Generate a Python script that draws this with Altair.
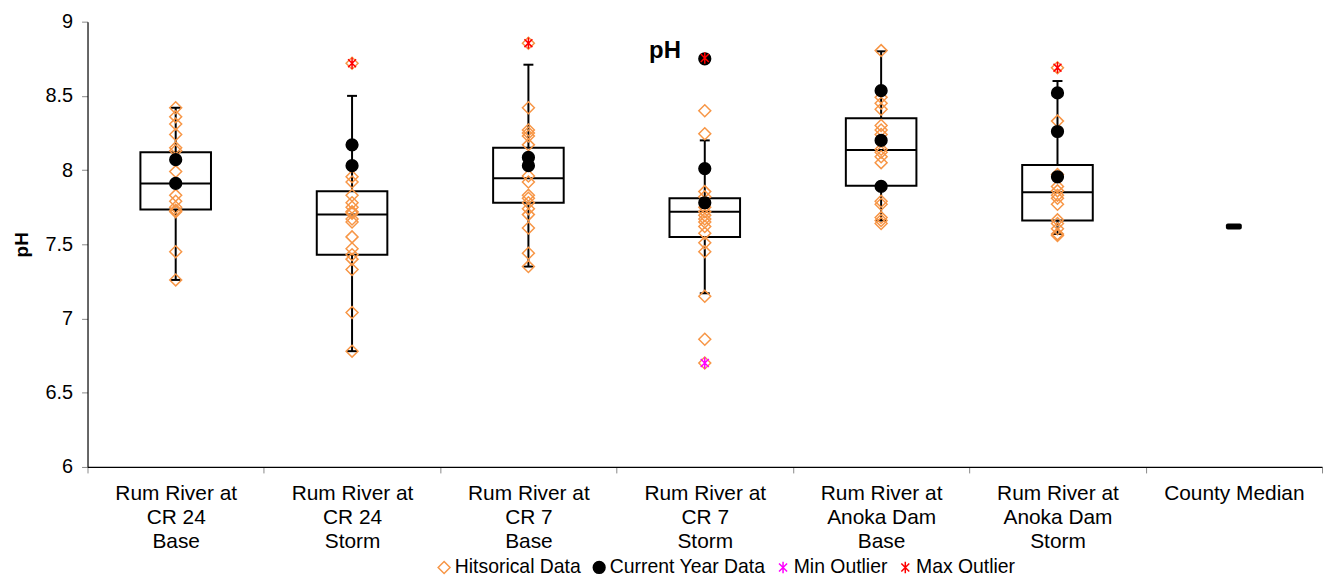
import altair as alt
import pandas as pd

FONT = "Liberation Sans"

sites = [
    "Rum River at|CR 24|Base",
    "Rum River at|CR 24|Storm",
    "Rum River at|CR 7|Base",
    "Rum River at|CR 7|Storm",
    "Rum River at|Anoka Dam|Base",
    "Rum River at|Anoka Dam|Storm",
    "County Median",
]

# box statistics for the six river sites
q1 = [7.735, 7.43, 7.78, 7.55, 7.895, 7.66]
median = [7.91, 7.70, 7.945, 7.72, 8.135, 7.85]
q3 = [8.12, 7.857, 8.15, 7.81, 8.35, 8.035]
whisk_lo = [7.26, 6.78, 7.35, 7.17, 7.66, 7.57]
whisk_hi = [8.42, 8.50, 8.71, 8.20, 8.80, 8.60]

county_median = 7.62

hist_cr24_base = [8.42, 8.36, 8.31, 8.24, 8.15, 8.13, 7.99, 7.83, 7.79, 7.75, 7.73, 7.72, 7.45, 7.26]
hist_cr24_storm = [8.72, 7.955, 7.92, 7.83, 7.78, 7.75, 7.72, 7.71, 7.67, 7.65, 7.55, 7.47, 7.43, 7.40, 7.33, 7.04, 6.78]
hist_cr7_base = [8.855, 8.42, 8.27, 8.25, 8.23, 8.17, 7.96, 7.92, 7.83, 7.81, 7.78, 7.74, 7.70, 7.61, 7.44, 7.35]
hist_cr7_storm = [8.40, 8.245, 7.855, 7.82, 7.75, 7.72, 7.695, 7.67, 7.65, 7.62, 7.575, 7.51, 7.45, 7.15, 6.86, 6.70]
hist_anoka_base = [8.805, 8.49, 8.45, 8.41, 8.30, 8.27, 8.24, 8.14, 8.12, 8.09, 8.05, 7.79, 7.77, 7.68, 7.66, 7.64]
hist_anoka_storm = [8.69, 8.33, 7.97, 7.89, 7.86, 7.83, 7.81, 7.77, 7.665, 7.64, 7.605, 7.57, 7.56]

cur_cr24_base = [8.07, 7.91]
cur_cr24_storm = [8.17, 8.03]
cur_cr7_base = [8.085, 8.03]
cur_cr7_storm = [8.75, 8.01, 7.78]
cur_anoka_base = [8.535, 8.20, 7.89]
cur_anoka_storm = [8.52, 8.26, 7.955]

min_outlier_sites = ["Rum River at|CR 7|Storm"]
min_outlier_vals = [6.70]
max_outlier_sites = ["Rum River at|CR 24|Storm", "Rum River at|CR 7|Base",
                     "Rum River at|CR 7|Storm", "Rum River at|Anoka Dam|Storm"]
max_outlier_vals = [8.72, 8.855, 8.755, 8.69]

series_names = ["Hitsorical Data", "Current Year Data", "Min Outlier", "Max Outlier"]

hist_all = [hist_cr24_base, hist_cr24_storm, hist_cr7_base, hist_cr7_storm, hist_anoka_base, hist_anoka_storm]
cur_all = [cur_cr24_base, cur_cr24_storm, cur_cr7_base, cur_cr7_storm, cur_anoka_base, cur_anoka_storm]

rows = []
for s, vals in zip(sites, hist_all):
    for v in vals:
        rows.append({"site": s, "value": v, "series": series_names[0]})
for s, vals in zip(sites, cur_all):
    for v in vals:
        rows.append({"site": s, "value": v, "series": series_names[1]})
for s, v in zip(min_outlier_sites, min_outlier_vals):
    rows.append({"site": s, "value": v, "series": series_names[2]})
for s, v in zip(max_outlier_sites, max_outlier_vals):
    rows.append({"site": s, "value": v, "series": series_names[3]})
points = pd.DataFrame(rows)

boxes = pd.DataFrame({"site": sites[:6], "q1": q1, "median": median, "q3": q3,
                      "lo": whisk_lo, "hi": whisk_hi})
county = pd.DataFrame({"site": [sites[6]], "median": [county_median]})

xenc = alt.X("site:N", sort=sites,
             scale=alt.Scale(domain=sites, paddingInner=0, paddingOuter=0),
             axis=alt.Axis(title=None, labelExpr="split(datum.label, '|')",
                           labelAngle=0, labelFont=FONT, labelFontSize=21,
                           labelColor="black", labelLineHeight=24, labelPadding=10,
                           labelBaseline="top",
                           tickBand="extent", tickColor="#888888", tickSize=6,
                           domainColor="black", domainWidth=1.2))
yscale = alt.Scale(domain=[6, 9], nice=False, zero=False)
yaxis = alt.Axis(title="pH", values=[6, 6.5, 7, 7.5, 8, 8.5, 9], format="~g",
                 grid=False, labelFont=FONT, labelFontSize=20, labelColor="black",
                 tickColor="#888888", tickSize=6, labelPadding=9,
                 domainColor="black", domainWidth=1.2,
                 titleFont=FONT, titleFontSize=19, titleFontWeight="bold",
                 titleColor="black", titleX=-66, titleY=224, titleAngle=-90,
                 titleAlign="center", titleBaseline="middle")

base_box = alt.Chart(boxes)

whisker = base_box.mark_rule(color="black", strokeWidth=2).encode(
    x=xenc, y=alt.Y("lo:Q", scale=yscale, axis=yaxis), y2="hi:Q")
cap_lo = base_box.mark_tick(color="black", size=10, thickness=2, opacity=1).encode(
    x=xenc, y=alt.Y("lo:Q", scale=yscale))
cap_hi = base_box.mark_tick(color="black", size=10, thickness=2, opacity=1).encode(
    x=xenc, y=alt.Y("hi:Q", scale=yscale))
box = base_box.mark_bar(size=71, fill="white", stroke="black", strokeWidth=2).encode(
    x=xenc, y=alt.Y("q1:Q", scale=yscale), y2="q3:Q")
med = base_box.mark_tick(color="black", size=71, thickness=2, opacity=1).encode(
    x=xenc, y=alt.Y("median:Q", scale=yscale))
county_mark = alt.Chart(county).mark_tick(color="black", size=16, thickness=6,
                                          cornerRadius=2, opacity=1).encode(
    x=xenc, y=alt.Y("median:Q", scale=yscale))

asterisk = "M-0.7,-0.7L0.7,0.7M-0.7,0.7L0.7,-0.7M0,-1L0,1"
pts = alt.Chart(points).mark_point(strokeWidth=1.5, opacity=1).encode(
    x=xenc,
    y=alt.Y("value:Q", scale=yscale),
    stroke=alt.Stroke("series:N", title=None,
                      scale=alt.Scale(domain=series_names,
                                      range=["#F79646", "black", "#FF00FF", "#FF0000"])),
    fill=alt.Fill("series:N", title=None,
                  scale=alt.Scale(domain=series_names,
                                  range=["transparent", "black", "transparent", "transparent"])),
    shape=alt.Shape("series:N", title=None,
                    scale=alt.Scale(domain=series_names,
                                    range=["diamond", "circle", asterisk, asterisk])),
    size=alt.Size("series:N", title=None,
                  scale=alt.Scale(domain=series_names, range=[144, 130, 90, 90])),
)

title_txt = alt.Chart(pd.DataFrame({"t": ["pH"]})).mark_text(
    font=FONT, fontSize=24, fontWeight="bold", color="black", align="center",
    baseline="alphabetic").encode(x=alt.value(581), y=alt.value(37), text="t:N")

chart = alt.layer(whisker, cap_lo, cap_hi, box, med, county_mark, pts, title_txt).properties(
    width=1242, height=448,
    autosize=alt.AutoSizeParams(type="none"),
    padding={"left": 80, "top": 12, "right": 4, "bottom": 113},
).configure_view(stroke=None).configure_legend(
    orient="none", legendX=349, legendY=539, direction="horizontal",
    labelFont=FONT, labelFontSize=19.5, labelColor="black", columnPadding=8,
    labelOffset=1, symbolStrokeWidth=1.5,
)

chart.save("out.html", embed_options={"renderer": "svg", "actions": False})
